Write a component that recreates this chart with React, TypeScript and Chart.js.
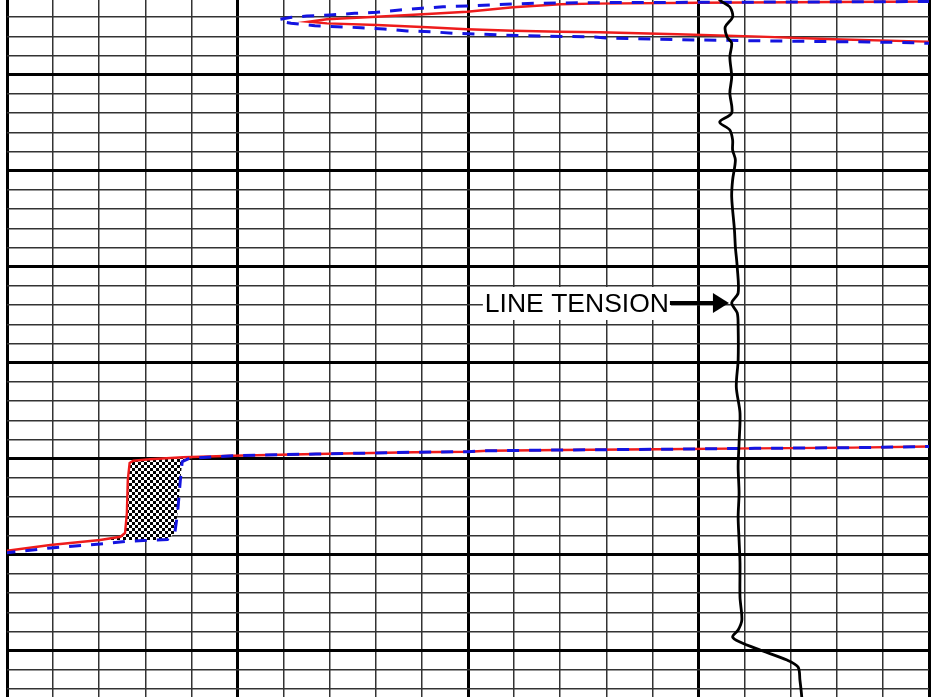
import React, { useEffect, useRef } from 'react';
import { Chart, registerables } from 'chart.js';

Chart.register(...registerables);

// ---- Axes (depth in ft, increasing downward; track value 0-100) ----
const DEPTH_TOP = 4992.22;
const DEPTH_BOTTOM = 5064.82;
const VALUE_MIN = 0;
const VALUE_MAX = 100;
const depthTicks: number[] = Array.from({ length: 36 }, (_, i) => 4994 + i * 2);
const valueTicks: number[] = Array.from({ length: 21 }, (_, i) => i * 5);
const DEPTH_MAJOR = 10;
const VALUE_MAJOR = 25;

// ---- Line tension (black) ----
const tensionDepth = [
  4991.6, 4992.22, 4992.95, 4993.99, 4995.03, 4996.07, 4996.7, 4998.16, 5000.24, 5001.91,
  5003.99, 5004.93, 5005.76, 5006.8, 5007.84, 5008.89, 5010.97, 5012.74, 5016.18, 5017.95,
  5020.03, 5022.74, 5023.78, 5024.82, 5026.28, 5029.72, 5032.53, 5035.24, 5038.37, 5040.87,
  5043.57, 5046.07, 5048.47, 5050.87, 5054.41, 5056.8, 5057.84, 5058.57, 5059.09, 5059.93,
  5060.97, 5061.7, 5063.05, 5064.82, 5066.39,
];
const tensionValue = [
  77.1, 77.3, 78.4, 78.7, 77.9, 78.1, 78.6, 78.4, 78.6, 78.4,
  78.6, 77.3, 78.4, 78.7, 78.7, 79.0, 78.7, 78.6, 78.9, 79.0,
  79.2, 79.3, 78.6, 79.2, 79.3, 79.3, 79.1, 79.5, 79.4, 79.3,
  79.4, 79.3, 79.4, 79.5, 79.5, 79.7, 79.3, 78.7, 79.5, 81.7,
  84.6, 85.8, 86.0, 86.2, 86.3,
];

// ---- Red solid curve ----
const redDepth = [
  4991.8, 4992.38, 4992.51, 4992.6, 4992.66, 4992.98, 4993.44, 4993.68, 4993.96, 4994.23,
  4994.48, 4994.65, 4994.82, 4995.06, 4995.27, 4995.42, 4995.52, 4995.58, 4995.79, 4996.04,
  4996.31, 4996.56, 4996.8, 5038.47, 5038.73, 5038.85, 5038.92, 5039.02, 5039.09, 5039.17,
  5039.27, 5039.33, 5039.51, 5039.69, 5039.85, 5040.06, 5040.21, 5040.45, 5042.22, 5045.66,
  5047.74, 5048.13, 5048.47, 5048.99, 5049.58, 5050.14,
];
const redValue = [
  112, 100, 75.2, 63.6, 60.0, 54.9, 49.9, 45.6, 40.1, 34.7,
  32.7, 34.7, 40.1, 45.6, 49.9, 54.9, 60.0, 64.3, 72.7, 81.7,
  89.6, 99.8, 112, 112, 100, 91.8, 81.1, 70.6, 60.0, 52.1,
  50.0, 44.1, 33.5, 24.5, 19.1, 15.5, 13.7, 13.3, 13.1, 13.0,
  12.8, 12.3, 10.1, 4.7, 0, -10,
];

// ---- Blue dashed curve ----
const blueDepth = [
  4991.8, 4992.38, 4992.5, 4992.56, 4992.64, 4992.74, 4992.85, 4992.92, 4993.08, 4993.26,
  4993.5, 4993.61, 4993.78, 4993.89, 4994.04, 4994.25, 4994.51, 4994.65, 4994.9, 4995.0,
  4995.11, 4995.24, 4995.45, 4995.52, 4995.69, 4995.76, 4995.87, 4995.94, 4996.0, 4996.05,
  4996.21, 4996.3, 4996.39, 4996.46, 4996.52, 4996.59, 4996.67, 4996.73, 4997.01, 5038.47,
  5038.73, 5038.85, 5038.92, 5039.02, 5039.09, 5039.17, 5039.27, 5039.33, 5039.51, 5039.69,
  5039.96, 5040.31, 5042.22, 5045.66, 5047.74, 5048.42, 5048.52, 5048.6, 5048.89, 5049.3,
  5049.79, 5050.35,
];
const blueValue = [
  112, 100, 63.2, 57.5, 54.9, 52.4, 49.9, 47.3, 45.0, 42.6,
  40.1, 37.7, 35.0, 32.5, 30.7, 29.5, 30.0, 30.8, 33.4, 35.8,
  38.4, 40.9, 43.4, 46.0, 48.4, 51.0, 53.5, 56.0, 58.9, 63.2,
  65.7, 70.6, 75.2, 80.8, 86.0, 93.4, 98.2, 100, 112, 112,
  100, 91.8, 81.1, 70.6, 60.0, 52.1, 50.0, 44.1, 33.5, 24.5,
  19.8, 19.0, 18.8, 18.5, 18.2, 17.4, 14.8, 13.0, 10.1, 4.7,
  0, -10,
];

// Depth interval where the gap between red and blue is shaded
const SHADE_TOP = 5039.6;
const SHADE_BOTTOM = 5048.55;

// Annotation
const LABEL_TEXT = 'LINE TENSION';
const LABEL_DEPTH = 5023.78;
const LABEL_VALUE = 78.3;

const toPoints = (depths: number[], values: number[]) =>
  depths.map((d, i) => ({ x: values[i], y: d }));
const inShade = (p: { y: number }) => p.y >= SHADE_TOP && p.y <= SHADE_BOTTOM;

const labelPlugin = {
  id: 'tensionLabel',
  afterDatasetsDraw(chart: any) {
    const { ctx } = chart;
    const xs = chart.scales.x;
    const ys = chart.scales.y;
    const tipX = xs.getPixelForValue(LABEL_VALUE);
    const tipY = ys.getPixelForValue(LABEL_DEPTH);
    ctx.save();
    ctx.font = '26.5px "Liberation Sans", Arial, sans-serif';
    const w = ctx.measureText(LABEL_TEXT).width;
    const textRight = tipX - 60;
    ctx.fillStyle = '#ffffff';
    ctx.fillRect(textRight - w - 2, tipY - 16, w + 4, 33);
    ctx.fillStyle = '#000000';
    ctx.textAlign = 'right';
    ctx.textBaseline = 'alphabetic';
    ctx.fillText(LABEL_TEXT, textRight, tipY + 9.5);
    ctx.strokeStyle = '#000000';
    ctx.lineWidth = 4;
    ctx.beginPath();
    ctx.moveTo(textRight + 1, tipY);
    ctx.lineTo(tipX - 13, tipY);
    ctx.stroke();
    ctx.beginPath();
    ctx.moveTo(tipX, tipY);
    ctx.lineTo(tipX - 16, tipY - 10);
    ctx.lineTo(tipX - 16, tipY + 10);
    ctx.closePath();
    ctx.fill();
    ctx.restore();
  },
};

export default function App() {
  const ref = useRef<HTMLCanvasElement | null>(null);

  useEffect(() => {
    const canvas = ref.current;
    if (!canvas) return;
    const pc = document.createElement('canvas');
    pc.width = 6;
    pc.height = 6;
    const pctx = pc.getContext('2d')!;
    pctx.fillStyle = '#ffffff';
    pctx.fillRect(0, 0, 6, 6);
    pctx.fillStyle = '#000000';
    pctx.fillRect(0, 0, 3, 3);
    pctx.fillRect(3, 3, 3, 3);
    const pattern = canvas.getContext('2d')!.createPattern(pc, 'repeat');

    const redPts = toPoints(redDepth, redValue);
    const bluePts = toPoints(blueDepth, blueValue);

    const gridColor = (major: number) => (c: any) =>
      c.tick && Math.abs(c.tick.value % major) < 1e-6 ? '#000000' : '#333333';
    const gridWidth = (major: number) => (c: any) =>
      c.tick && Math.abs(c.tick.value % major) < 1e-6 ? 3 : 1.5;

    const chart = new Chart(canvas, {
      type: 'line',
      data: {
        datasets: [
          {
            label: 'Line Tension',
            data: toPoints(tensionDepth, tensionValue),
            borderColor: '#000000',
            borderWidth: 2.8,
            tension: 0.3,
            pointRadius: 0,
            fill: false,
            order: 0,
          },
          {
            label: 'Blue',
            data: bluePts,
            borderColor: '#1414e0',
            borderWidth: 3,
            borderDash: [12, 10],
            pointRadius: 0,
            fill: false,
            order: 1,
          },
          {
            label: 'Red',
            data: redPts,
            borderColor: '#ee1c1c',
            borderWidth: 2.4,
            pointRadius: 0,
            fill: false,
            order: 2,
          },
          {
            label: 'Shade red',
            data: redPts.filter(inShade),
            borderColor: 'rgba(0,0,0,0)',
            borderWidth: 0,
            pointRadius: 0,
            backgroundColor: pattern as any,
            fill: 4,
            order: 3,
          },
          {
            label: 'Shade blue',
            data: bluePts.filter(inShade),
            borderColor: 'rgba(0,0,0,0)',
            borderWidth: 0,
            pointRadius: 0,
            fill: false,
            order: 4,
          },
        ],
      },
      options: {
        animation: false,
        responsive: false,
        devicePixelRatio: 1,
        indexAxis: 'y',
        layout: { padding: { left: 7, right: 7, top: 0, bottom: 0 } },
        events: [],
        plugins: {
          legend: { display: false },
          tooltip: { enabled: false },
          title: { display: false },
        },
        elements: { point: { radius: 0, hoverRadius: 0 } },
        scales: {
          x: {
            type: 'linear',
            position: 'bottom',
            min: VALUE_MIN,
            max: VALUE_MAX,
            ticks: { display: false },
            border: { display: false },
            grid: {
              drawTicks: false,
              tickLength: 0,
              color: gridColor(VALUE_MAJOR),
              lineWidth: gridWidth(VALUE_MAJOR),
            },
            afterBuildTicks: (s: any) => {
              s.ticks = valueTicks.map((v) => ({ value: v }));
            },
          },
          y: {
            type: 'linear',
            position: 'left',
            reverse: true,
            min: DEPTH_TOP,
            max: DEPTH_BOTTOM,
            ticks: { display: false },
            border: { display: false },
            grid: {
              drawTicks: false,
              tickLength: 0,
              color: gridColor(DEPTH_MAJOR),
              lineWidth: gridWidth(DEPTH_MAJOR),
            },
            afterBuildTicks: (s: any) => {
              s.ticks = depthTicks.map((v) => ({ value: v }));
            },
          },
        },
      } as any,
      plugins: [labelPlugin],
    });

    return () => chart.destroy();
  }, []);

  return (
    <div style={{ position: 'fixed', left: 0, top: 0, width: 936, height: 697, background: '#ffffff' }}>
      <canvas ref={ref} width={936} height={697} style={{ display: 'block', width: 936, height: 697 }} />
    </div>
  );
}
